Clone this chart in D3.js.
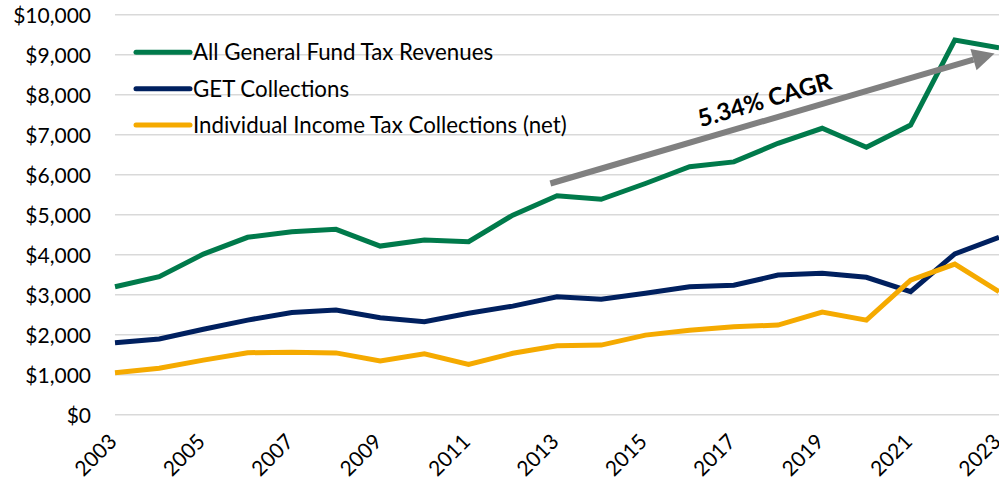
<!DOCTYPE html>
<html><head><meta charset="utf-8">
<script src="https://cdn.jsdelivr.net/npm/d3@7/dist/d3.min.js"></script>
<style>body{margin:0;background:#fff}svg{display:block}text{font-family:Lato,"Open Sans",sans-serif}</style>
</head><body>
<svg id="c" width="999" height="479"></svg>
<script>
const years = [2003,2004,2005,2006,2007,2008,2009,2010,2011,2012,2013,2014,2015,2016,2017,2018,2019,2020,2021,2022,2023];
const generalFund = [3200,3450,4015,4435,4575,4635,4215,4365,4325,4990,5475,5385,5780,6200,6320,6785,7160,6685,7240,9365,9170];
const getCollections = [1800,1895,2135,2365,2555,2615,2425,2325,2535,2715,2950,2885,3035,3200,3235,3490,3535,3435,3075,4020,4435];
const incomeTax = [1050,1160,1365,1550,1560,1545,1345,1520,1255,1535,1725,1740,1990,2110,2200,2240,2565,2365,3365,3765,3075];
const yTicks = [0,1000,2000,3000,4000,5000,6000,7000,8000,9000,10000];
const xTickYears = [2003,2005,2007,2009,2011,2013,2015,2017,2019,2021,2023];
const seriesNames = ["All General Fund Tax Revenues","GET Collections","Individual Income Tax Collections (net)"];
const seriesColors = ["#007A4B","#00205F","#F5AA00"];
const cagrLabel = "5.34% CAGR";
const arrowYears = [2012.85, 2022.9];
const arrowValues = [5780, 9030];

const svg = d3.select("#c");
const x = d3.scaleLinear().domain([2003,2023]).range([115,999]);
const y = d3.scaleLinear().domain([0,10000]).range([414.7,14.7]);

// gridlines
svg.append("g").selectAll("line").data(yTicks).join("line")
  .attr("x1",115).attr("x2",999).attr("y1",d=>y(d)).attr("y2",d=>y(d))
  .attr("stroke","#d9d9d9").attr("stroke-width",1.5);

// y axis labels
const yAxis = d3.axisLeft(y).tickValues(yTicks).tickSize(0).tickPadding(0)
  .tickFormat(d=>"$"+d3.format(",")(d));
const gy = svg.append("g").attr("transform","translate(91,0)").call(yAxis);
gy.select(".domain").remove();
gy.selectAll("text").attr("font-size",21).attr("fill","#000").attr("font-family","Lato").attr("dy","0.35em");

// x axis labels
const gx = svg.append("g");
gx.selectAll("text").data(xTickYears).join("text")
  .attr("transform",d=>`translate(${x(d)+3},443) rotate(-45)`)
  .attr("text-anchor","end").attr("font-size",21).attr("fill","#000").text(d=>d);

// lines
const all = [generalFund,getCollections,incomeTax];
const line = d3.line().x((d,i)=>x(years[i])).y(d=>y(d));
svg.append("g").selectAll("path").data(all).join("path")
  .attr("d",line).attr("fill","none")
  .attr("stroke",(d,i)=>seriesColors[i]).attr("stroke-width",5).attr("stroke-linejoin","miter");

// arrow
const ax1 = x(arrowYears[0]), ay1 = y(arrowValues[0]), ax2 = x(arrowYears[1]), ay2 = y(arrowValues[1]);
const ang = Math.atan2(ay2-ay1, ax2-ax1);
const headLen = 22, headW = 11;
const bx = ax2 - headLen*Math.cos(ang), by = ay2 - headLen*Math.sin(ang);
svg.append("line").attr("x1",ax1).attr("y1",ay1).attr("x2",bx).attr("y2",by)
  .attr("stroke","#808080").attr("stroke-width",6);
const px = -Math.sin(ang), py = Math.cos(ang);
svg.append("path").attr("d",`M${ax2},${ay2}L${bx+px*headW},${by+py*headW}L${bx-px*headW},${by-py*headW}Z`)
  .attr("fill","#808080");
const deg = ang*180/Math.PI;
svg.append("text").attr("transform",`translate(767,108) rotate(${deg})`)
  .attr("text-anchor","middle").attr("font-size",24).attr("font-weight","bold").attr("fill","#000").text(cagrLabel);

// legend
const lg = svg.append("g");
seriesNames.forEach((n,i)=>{
  const yy = 52.3 + i*36.4;
  lg.append("line").attr("x1",136).attr("x2",190).attr("y1",yy).attr("y2",yy)
    .attr("stroke",seriesColors[i]).attr("stroke-width",5).attr("stroke-linecap","round");
  lg.append("text").attr("x",193).attr("y",yy).attr("dy","0.35em").attr("font-size",22.3).attr("fill","#000").text(n);
});
</script>
</body></html>
